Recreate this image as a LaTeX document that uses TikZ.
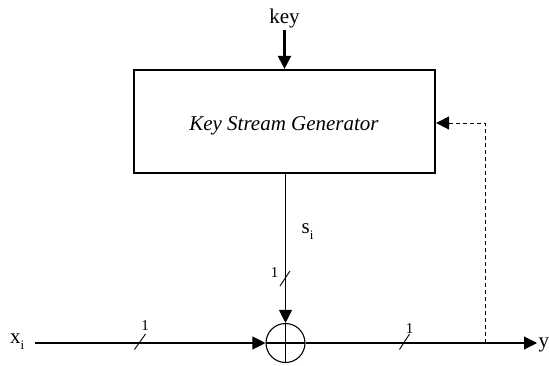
\documentclass[tikz,border=0pt]{standalone}
\usepackage{fontspec}
\setmainfont{Liberation Serif}
\usetikzlibrary{arrows.meta}
\newcommand{\lowsub}[1]{\raisebox{-6pt}{\fontsize{13}{13}\selectfont #1}}
\begin{document}
\begin{tikzpicture}[x=1pt,y=-1pt,
  sig/.style={line width=1.1pt},
  tip/.style={-{Triangle[length=13pt,width=13pt]}},
  lbl/.style={font=\fontsize{21}{23}\selectfont, inner sep=0pt},
  width1/.style={font=\fontsize{15}{17}\selectfont, inner sep=0pt, anchor=base},
  gen/.style={draw, line width=2.2pt, minimum width=301pt, minimum height=103pt, inner sep=0pt},
  xorgate/.style={draw, circle, line width=1.1pt, minimum size=39pt, inner sep=0pt,
    path picture={
      \draw[line width=1.1pt] (path picture bounding box.north) -- (path picture bounding box.south);
      \draw[line width=1.1pt] (path picture bounding box.west) -- (path picture bounding box.east);}},
  slash/.style={line width=0.9pt}
]
\useasboundingbox (0,0) rectangle (549,365);

% key stream generator block
\node[gen] (ksg) at (284.5,121.5) {};
\node[lbl, anchor=base] (ksgtext) at (284,130) {\itshape Key Stream Generator};
\node[lbl, anchor=base] (key) at (284.5,23) {key};
\coordinate (keytop) at (284.5,30);
\draw[line width=2.2pt, tip] (keytop) -- (ksg.north);

% XOR combiner
\node[xorgate] (xor) at (285.5,343) {};

% input and output
\node[lbl, anchor=base west] (x) at (10,343) {x\lowsub{i}};
\node[lbl, anchor=base west] (y) at (538.5,347) {y};
\coordinate (xin) at (35,343);
\coordinate (yend) at (537,343);
\draw[sig, tip] (xin) -- (xor.west);
\draw[sig, tip] (xor.east) -- (yend);

% keystream bit
\draw[sig, tip] (ksg.south -| xor.north) -- (xor.north);
\node[lbl, anchor=base west] (s) at (301.5,233) {s\lowsub{i}};

% feedback from output
\coordinate (tap) at (485,343);
\coordinate (corner) at (485,123);
\draw[line width=0.9pt, dash pattern=on 4pt off 3pt, tip] (tap) -- (corner) -- (ksg.east |- corner);

% bus width marks
\draw[slash] (134.5,349.5) -- (145.5,334);
\node[width1] (w1) at (145,330) {1};
\draw[slash] (280,286) -- (290,271);
\node[width1] (w2) at (274.5,277) {1};
\draw[slash] (399.5,349.5) -- (409.5,334);
\node[width1] (w3) at (409.5,333) {1};
\end{tikzpicture}
\end{document}
